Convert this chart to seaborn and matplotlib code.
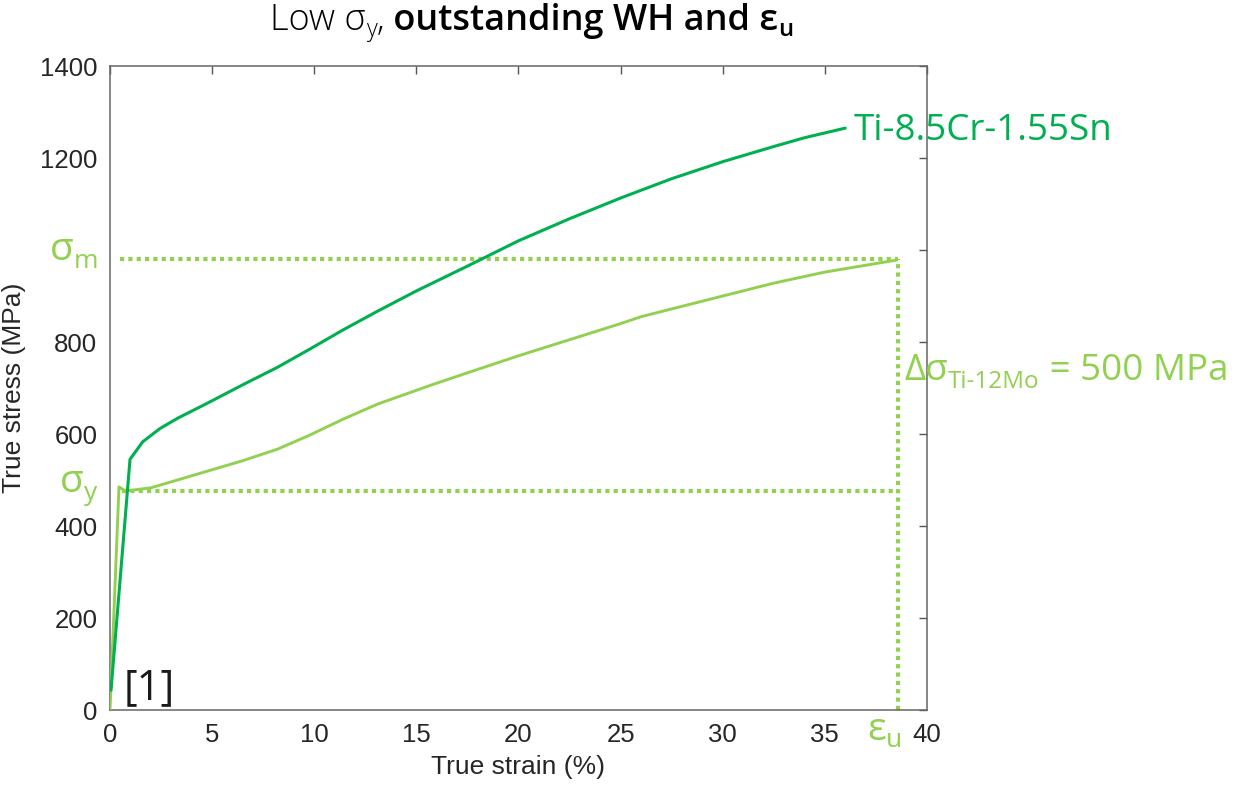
import matplotlib
matplotlib.use('Agg')
import matplotlib.pyplot as plt
from matplotlib.transforms import IdentityTransform
import numpy as np
import pandas as pd
import seaborn as sns

# ---------------- data ----------------
# Ti-8.5Cr-1.55Sn (dark green)
cr_strain = [0.05, 0.98, 1.6, 2.45, 3.3, 4.9, 6.5, 8.2, 9.8, 11.4, 13.1, 15, 17.5, 20,
             22.5, 25, 27.5, 30, 32.5, 34, 36]
cr_stress = [43, 545, 583, 612, 634, 670, 707, 745, 785, 826, 867, 911, 965,
             1020, 1068, 1113, 1155, 1192, 1225, 1244, 1265]

# Ti-12Mo (light green)
mo_strain = [0, 0.44, 0.75, 2, 3.3, 4.9, 6.5, 8.2, 9.8, 11.4, 13.1, 15.7, 17.5, 20,
             22.5, 25, 26, 30, 32.5, 35, 38.5]
mo_stress = [0, 485, 476, 483, 500, 521, 542, 567, 598, 632, 665, 706, 733, 770,
             805, 840, 855, 900, 928, 952, 978]

sigma_m = 980     # MPa
sigma_y = 476     # MPa
eps_u = 38.6      # %
ref_start = 0.5   # % where the dotted guides start

x_ticks = [0, 5, 10, 15, 20, 25, 30, 35, 40]
y_ticks = [0, 200, 400, 600, 800, 1000, 1200, 1400]
y_tick_labels = ['0', '200', '400', '600', '800', '', '1200', '1400']  # 1000 hidden under sigma_m

dark_green = '#00B050'
light_green = '#92D050'
txt_family = ['Open Sans', 'DejaVu Sans']

sns.set_style('white')
plt.rcParams['font.family'] = ['Liberation Sans', 'DejaVu Sans']

W, H = 1235, 788
fig = plt.figure(figsize=(W / 100, H / 100), dpi=100)
ax = fig.add_axes([110 / W, 1 - 710 / H, (927 - 110) / W, (710 - 66) / H])

df_cr = pd.DataFrame({'strain': cr_strain, 'stress': cr_stress})
df_mo = pd.DataFrame({'strain': mo_strain, 'stress': mo_stress})

# dotted guides
ax.plot([ref_start, eps_u], [sigma_m, sigma_m], color=light_green, lw=3,
        dashes=(1, 1), dash_capstyle='butt', zorder=2)
ax.plot([ref_start + 0.1, eps_u], [sigma_y, sigma_y], color=light_green, lw=3,
        dashes=(1, 1), dash_capstyle='butt', zorder=2)
ax.plot([eps_u, eps_u], [0, sigma_m], color=light_green, lw=3,
        dashes=(1, 1), dash_capstyle='butt', zorder=2)

sns.lineplot(data=df_mo, x='strain', y='stress', ax=ax, color=light_green,
             lw=2.1, sort=False, zorder=3)
sns.lineplot(data=df_cr, x='strain', y='stress', ax=ax, color=dark_green,
             lw=2.2, sort=False, zorder=4)

ax.set_xlim(0, 40)
ax.set_ylim(0, 1400)
ax.set_xticks(x_ticks)
ax.set_yticks(y_ticks)
ax.set_yticklabels(y_tick_labels)
ax.tick_params(direction='in', length=6, width=1, top=True, right=True,
               labelsize=18.5, colors='#262626', pad=9)
ax.tick_params(axis='both', color='#555555')
for sp in ax.spines.values():
    sp.set_color('#666666')
    sp.set_linewidth(1.1)
ax.set_xlabel('True strain (%)', fontsize=19, color='#262626', labelpad=6)
ax.set_ylabel('True stress (MPa)', fontsize=19, color='#262626', labelpad=10)

# ---------------- text pieces (chained, with subscripts) ----------------
renderer = fig.canvas.get_renderer()


def chain(parts, x0, y0):
    """parts: (text, size, weight, color, dy) placed one after another on a baseline (pixels)."""
    x = x0
    for s, size, weight, color, dy in parts:
        t = fig.text(x, y0 + dy, s, transform=IdentityTransform(), fontsize=size,
                     fontweight=weight, color=color, family=txt_family,
                     ha='left', va='baseline')
        x = t.get_window_extent(renderer).x1
    return x


def pix(xd, yd):
    return ax.transData.transform((xd, yd))


# title
chain([('Low σ', 26, 'light', 'black', 0),
       ('y', 17, 'light', 'black', -6),
       (',', 26, 'light', 'black', 0),
       (' outstanding WH and ε', 26, 'semibold', 'black', 0),
       ('u', 17, 'semibold', 'black', -6)], 270, H - 30)

# sigma_m / sigma_y labels left of the axis
_, ym = pix(0, sigma_m)
chain([('σ', 28, 'normal', light_green, 0),
       ('m', 19, 'normal', light_green, -8)], 50, ym - 1)
_, yy = pix(0, sigma_y)
chain([('σ', 28, 'normal', light_green, 0),
       ('y', 19, 'normal', light_green, -8)], 60, yy - 1)

# eps_u below the vertical guide
xe, _ = pix(eps_u, 0)
chain([('ε', 28, 'normal', light_green, 0),
       ('u', 19, 'normal', light_green, -7)], xe - 31, H - 740)

# delta sigma label right of the axis
chain([('Δσ', 26.5, 'normal', light_green, 0),
       ('Ti-12Mo', 17.5, 'normal', light_green, -8),
       (' = 500 MPa', 26.5, 'normal', light_green, 0)], xe + 6, H - 380)

# curve name
xc, yc = pix(cr_strain[-1], cr_stress[-1])
chain([('Ti-8.5Cr-1.55Sn', 26.5, 'normal', dark_green, 0)], xc + 8, yc - 12)

# reference tag
chain([('[1]', 30, 'normal', '#1a1a1a', 0)], 124, H - 699)

fig.savefig('out.png', dpi=100)
